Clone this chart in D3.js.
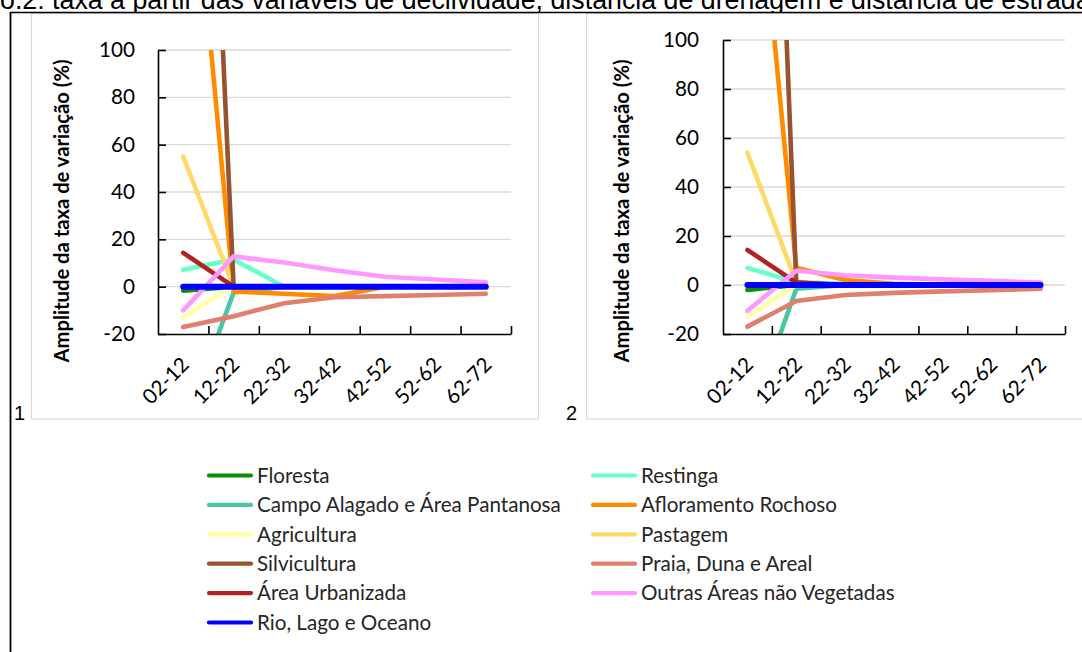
<!DOCTYPE html>
<html><head><meta charset="utf-8">
<script src="https://cdn.jsdelivr.net/npm/d3@7/dist/d3.min.js"></script>
<style>body{margin:0;background:#fff}svg{display:block}</style>
</head><body>
<svg id="chart" width="1082" height="652"></svg>
<script>
// ---------------- DATA ----------------
const titleText = "o.2: taxa a partir das variáveis de declividade, distância de drenagem e distância de estrada";
const yAxisTitle = "Amplitude da taxa de variação (%)";
const panelLabels = ["1", "2"];
const categories = ["02-12", "12-22", "22-32", "32-42", "42-52", "52-62", "62-72"];
const yTicks = [-20, 0, 20, 40, 60, 80, 100];
const seriesNames = ["Floresta", "Restinga", "Campo Alagado e Área Pantanosa", "Afloramento Rochoso",
  "Agricultura", "Pastagem", "Silvicultura", "Praia, Duna e Areal", "Área Urbanizada",
  "Outras Áreas não Vegetadas", "Rio, Lago e Oceano"];
const seriesColors = ["#0b8c0b", "#66ffcc", "#48c6a6", "#ff8c00", "#ffffa6", "#ffd966",
  "#97532f", "#e07f6c", "#b22222", "#ff99ff", "#0000ff"];

// panel 1
const floresta1   = [-1.7, 0, 0, 0, 0, 0, 0];
const restinga1   = [7.1, 11.5, 0, 0, 0, 0, 0];
const campo1      = [-60, -2.5, 0, 0, 0, 0, 0];
const afloramento1= [225, -2, -3, -4, 0, 0, 0];
const agricultura1= [-13, 0.5, 0, 0, 0, 0, 0];
const pastagem1   = [55, 0, 0, 0, 0, 0, 0];
const silvicultura1=[470, 0, 0, 0, 0, 0, 0];
const praia1      = [-17, -12.5, -7, -4.5, -4, -3.5, -3];
const urbanizada1 = [14.3, 0, 0, 0, 0, 0, 0];
const outras1     = [-10, 12.8, 10.2, 6.9, 4.2, 3, 1.8];
const rio1        = [0, 0, 0, 0, 0, 0, 0];
// panel 2
const floresta2   = [-2, 0, 0, 0, 0, 0, 0];
const restinga2   = [7, 1.2, 0.5, 0, 0, 0, 0];
const campo2      = [-58, -1.5, 0, 0, 0, 0, 0];
const afloramento2= [215, 7, 2, 0.5, 0, 0, 0];
const agricultura2= [-13, 0, 0, 0, 0, 0, 0];
const pastagem2   = [54, 1, 0, 0, 0, 0, 0];
const silvicultura2=[500, 1, 0, 0, 0, 0, 0];
const praia2      = [-17, -6.5, -4.1, -3.2, -2.6, -2.1, -1.5];
const urbanizada2 = [14.3, 1, 0, 0, 0, 0, 0];
const outras2     = [-10.5, 5.8, 4, 3, 2.3, 1.7, 1];
const rio2        = [0, 0, 0, 0, 0, 0, 0];

const panel1Series = [floresta1, restinga1, campo1, afloramento1, agricultura1, pastagem1,
  silvicultura1, praia1, urbanizada1, outras1, rio1];
const panel2Series = [floresta2, restinga2, campo2, afloramento2, agricultura2, pastagem2,
  silvicultura2, praia2, urbanizada2, outras2, rio2];

// ---------------- DRAW ----------------
const svg = d3.select("#chart");
const SANS = "Lato, 'Open Sans', sans-serif";
const ARIAL = "'Liberation Sans', Arial, sans-serif";

function fit(sel, target, base) {
  sel.attr("font-size", base);
  const w = sel.node().getComputedTextLength();
  const fs = base * target / w;
  sel.attr("font-size", fs);
  return fs;
}

// title (cut at top like the reference)
const t = svg.append("text").attr("x", 0).attr("y", 9)
  .attr("font-family", ARIAL).attr("fill", "#000").text(titleText);
fit(t, 1091, 20);

// measuring font sizes for ticks
const probe = svg.append("text").attr("font-family", SANS).text("100");
const tickFs = fit(probe, 36, 20);
probe.remove();

const panels = [
  {box: [31.5, 13.5, 507, 405.5], x0: 158, x1: 511, yTop: 50, yBot: 334, titleX: 62, labelX: 14, pad: 23, series: panel1Series},
  {box: [586.5, 13.5, 620, 405.5], x0: 723, x1: 1065, yTop: 40, yBot: 334, titleX: 622, labelX: 566, pad: 24, series: panel2Series}
];

panels.forEach((p, pi) => {
  const g = svg.append("g");
  g.append("rect").attr("x", p.box[0]).attr("y", p.box[1]).attr("width", p.box[2]).attr("height", p.box[3])
    .attr("fill", "#fff").attr("stroke", "#d9d9d9").attr("stroke-width", 1.2);

  const x = d3.scaleBand().domain(categories).range([p.x0, p.x1]).padding(0);
  const xb = d3.scaleLinear().domain([0, categories.length]).range([p.x0, p.x1]);
  const y = d3.scaleLinear().domain([-20, 100]).range([p.yBot, p.yTop]);

  // gridlines
  g.selectAll(".grid").data(yTicks.filter(v => v > -20)).enter().append("line")
    .attr("x1", p.x0).attr("x2", p.x1).attr("y1", d => y(d)).attr("y2", d => y(d))
    .attr("stroke", "#d9d9d9").attr("stroke-width", 1.3);

  // lines
  const clipId = "clip" + pi;
  svg.append("defs").append("clipPath").attr("id", clipId).append("rect")
    .attr("x", p.x0).attr("y", p.yTop).attr("width", p.x1 - p.x0).attr("height", p.yBot - p.yTop);
  const line = d3.line().x((d, i) => x(categories[i]) + x.bandwidth() / 2).y(d => y(d));
  const lg = g.append("g").attr("clip-path", `url(#${clipId})`);
  p.series.forEach((vals, si) => {
    lg.append("path").attr("d", line(vals)).attr("fill", "none")
      .attr("stroke", seriesColors[si]).attr("stroke-width", si === 10 ? 6 : 4.6)
      .attr("stroke-linecap", "round").attr("stroke-linejoin", "round");
  });

  // y axis
  const ya = g.append("g").attr("transform", `translate(${p.x0},0)`)
    .call(d3.axisLeft(y).tickValues(yTicks).tickSize(-8).tickSizeOuter(0).tickPadding(p.pad).tickFormat(d => String(d)));
  ya.select(".domain").attr("stroke", "#000").attr("stroke-width", 1.6);
  ya.selectAll(".tick line").attr("stroke", "#000").attr("stroke-width", 1.6);
  ya.selectAll(".tick text").attr("font-family", SANS).attr("font-size", tickFs).attr("fill", "#000");

  // x axis (ticks between categories)
  const xa = g.append("g").attr("transform", `translate(0,${p.yBot})`)
    .call(d3.axisBottom(xb).tickValues(d3.range(1, categories.length + 1)).tickSize(-8).tickSizeOuter(0).tickFormat(""));
  xa.select(".domain").attr("stroke", "#000").attr("stroke-width", 1.6);
  xa.selectAll(".tick line").attr("stroke", "#000").attr("stroke-width", 1.6);

  // x labels
  g.selectAll(".xl").data(categories).enter().append("text")
    .attr("transform", d => `translate(${x(d) + x.bandwidth() / 2 + 2},${p.yBot + 27}) rotate(-45)`)
    .attr("text-anchor", "end").attr("dy", "0.35em")
    .attr("font-family", SANS).attr("font-size", tickFs).attr("fill", "#000").text(d => d);

  // y axis title
  const yt = g.append("text").attr("transform", `translate(${p.titleX},211) rotate(-90)`)
    .attr("text-anchor", "middle").attr("dy", "0.35em")
    .attr("font-family", SANS).attr("font-weight", "bold").attr("fill", "#000").text(yAxisTitle);
  fit(yt, 303, 16);

  // panel number
  svg.append("text").attr("x", p.labelX).attr("y", 420).attr("font-family", ARIAL)
    .attr("font-size", 20).attr("fill", "#000").text(panelLabels[pi]);
});

// frame
svg.append("line").attr("x1", 10).attr("x2", 1082).attr("y1", 12.5).attr("y2", 12.5).attr("stroke", "#000").attr("stroke-width", 1.6);
svg.append("line").attr("x1", 10.5).attr("x2", 10.5).attr("y1", 12).attr("y2", 652).attr("stroke", "#000").attr("stroke-width", 1.8);

// legend
const probeL = svg.append("text").attr("font-family", SANS).text(seriesNames[2]);
const legFs = fit(probeL, 304, 18);
probeL.remove();
const leg = svg.append("g");
seriesNames.forEach((name, i) => {
  const col = i % 2, row = Math.floor(i / 2);
  const lx = 207 + col * 384, ly = 475.5 + row * 29.4;
  leg.append("line").attr("x1", lx + 2).attr("x2", lx + 44).attr("y1", ly).attr("y2", ly)
    .attr("stroke", seriesColors[i]).attr("stroke-width", 4.2).attr("stroke-linecap", "round");
  leg.append("text").attr("x", lx + 50).attr("y", ly).attr("dy", "0.35em")
    .attr("font-family", SANS).attr("font-size", legFs).attr("fill", "#262626").text(name);
});
</script>
</body></html>
